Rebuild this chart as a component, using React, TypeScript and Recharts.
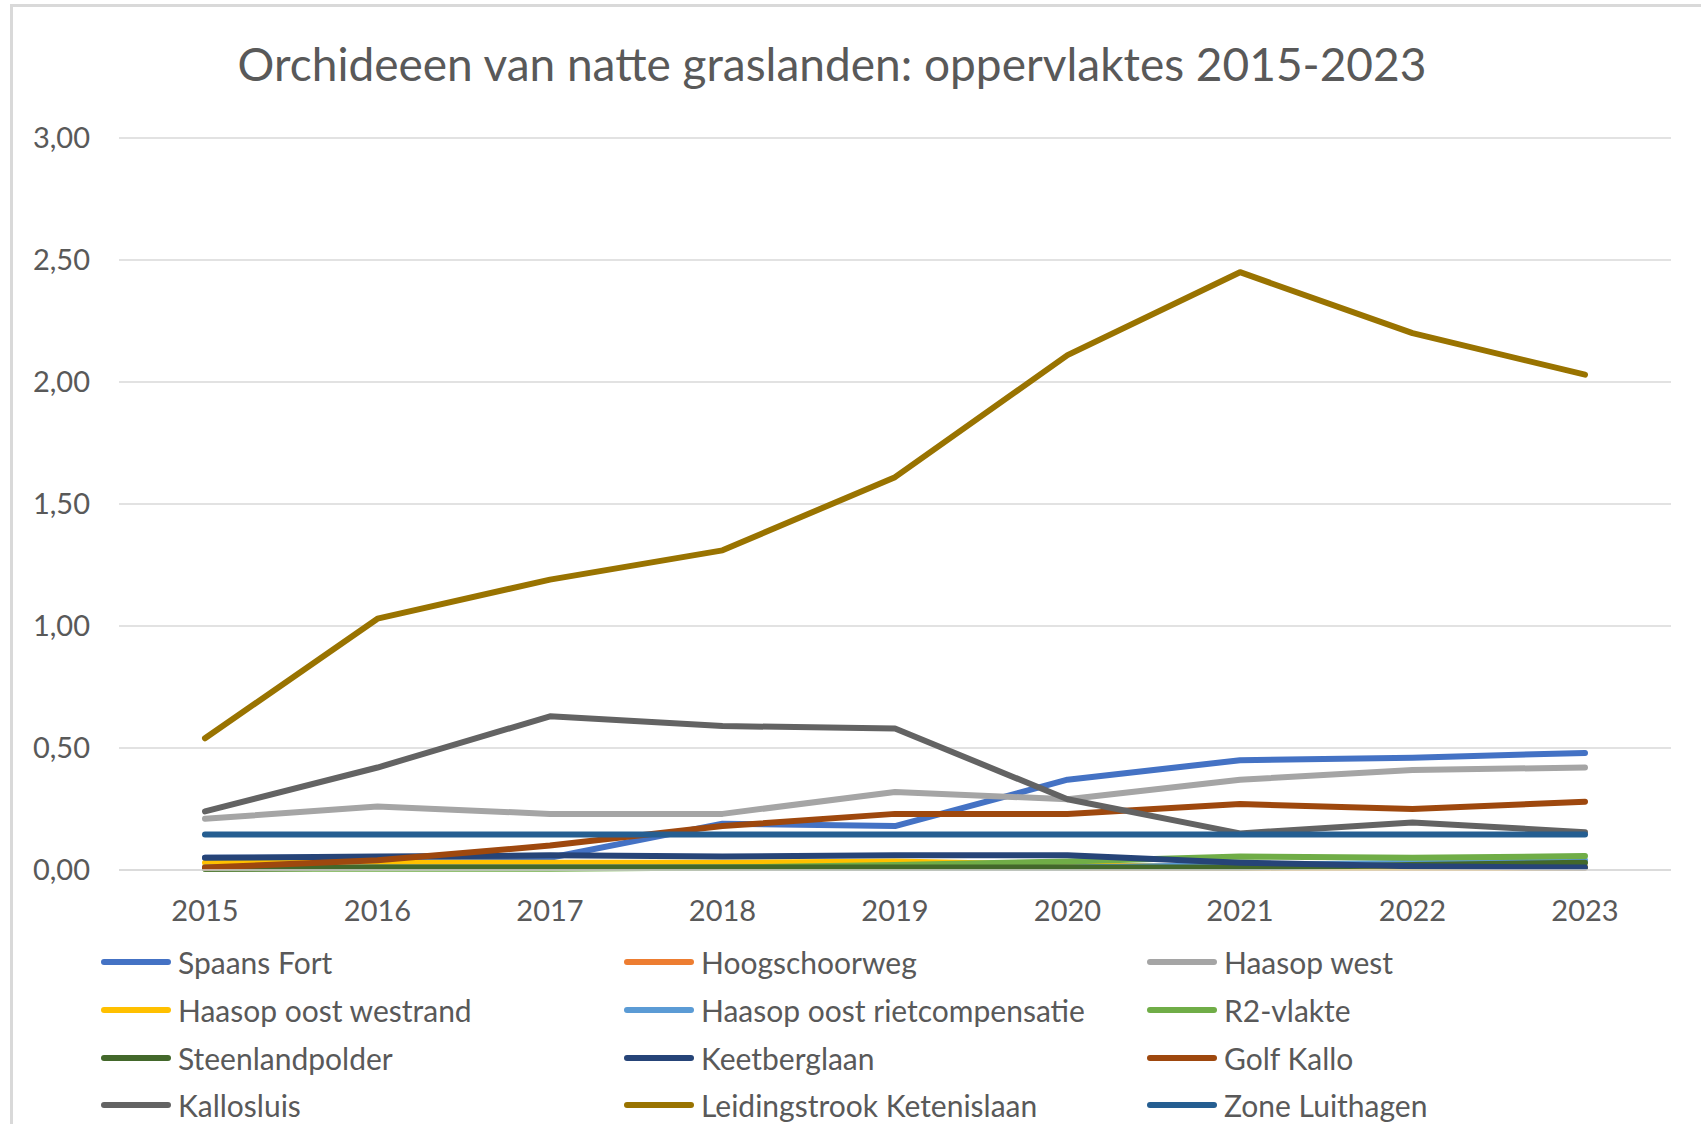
import React from "react";
import { CartesianGrid, Line, LineChart, XAxis, YAxis } from "recharts";

const years = ["2015", "2016", "2017", "2018", "2019", "2020", "2021", "2022", "2023"];
const yTicks = [0, 0.5, 1, 1.5, 2, 2.5, 3];

const spaansFort = [0.05, 0.05, 0.05, 0.19, 0.18, 0.37, 0.45, 0.46, 0.48];
const hoogschoorweg = [0.01, 0.01, 0.01, 0.01, 0.01, 0.01, 0.01, 0.01, 0.01];
const haasopWest = [0.21, 0.26, 0.23, 0.23, 0.32, 0.29, 0.37, 0.41, 0.42];
const haasopOostWestrand = [0.03, 0.03, 0.03, 0.03, 0.035, 0.02, 0.01, 0.01, 0.01];
const haasopOostRiet = [0.01, 0.01, 0.01, 0.01, 0.01, 0.01, 0.02, 0.03, 0.04];
const r2Vlakte = [0.005, 0.005, 0.005, 0.01, 0.02, 0.035, 0.055, 0.05, 0.057];
const steenlandpolder = [0.005, 0.01, 0.01, 0.01, 0.01, 0.01, 0.01, 0.02, 0.03];
const keetberglaan = [0.05, 0.055, 0.06, 0.055, 0.06, 0.06, 0.03, 0.015, 0.01];
const golfKallo = [0.01, 0.04, 0.1, 0.18, 0.23, 0.23, 0.27, 0.25, 0.28];
const kallosluis = [0.24, 0.42, 0.63, 0.59, 0.58, 0.29, 0.15, 0.195, 0.155];
const leidingstrook = [0.54, 1.03, 1.19, 1.31, 1.61, 2.11, 2.45, 2.2, 2.03];
const zoneLuithagen = [0.145, 0.145, 0.145, 0.145, 0.145, 0.145, 0.145, 0.145, 0.145];

const series = [
  { key: "Spaans Fort", values: spaansFort, color: "#4472C4" },
  { key: "Hoogschoorweg", values: hoogschoorweg, color: "#ED7D31" },
  { key: "Haasop west", values: haasopWest, color: "#A5A5A5" },
  { key: "Haasop oost westrand", values: haasopOostWestrand, color: "#FFC000" },
  { key: "Haasop oost rietcompensatie", values: haasopOostRiet, color: "#5B9BD5" },
  { key: "R2-vlakte", values: r2Vlakte, color: "#70AD47" },
  { key: "Steenlandpolder", values: steenlandpolder, color: "#43682B" },
  { key: "Keetberglaan", values: keetberglaan, color: "#264478" },
  { key: "Golf Kallo", values: golfKallo, color: "#9E480E" },
  { key: "Kallosluis", values: kallosluis, color: "#636363" },
  { key: "Leidingstrook Ketenislaan", values: leidingstrook, color: "#997300" },
  { key: "Zone Luithagen", values: zoneLuithagen, color: "#255E91" },
];

const data = years.map((year, i) => {
  const row: Record<string, string | number> = { year };
  series.forEach((s) => (row[s.key] = s.values[i]));
  return row;
});

const font = "Lato, 'Open Sans', sans-serif";
const textColor = "#595959";

const fmt = (v: number) => v.toFixed(2).replace(".", ",");

const LegendBlock = () => {
  const cols = [101, 624, 1147];
  const rows = [962, 1010, 1058, 1105];
  return (
    <>
      {series.map((s, i) => (
        <div
          key={s.key}
          style={{
            position: "absolute",
            left: cols[i % 3],
            top: rows[Math.floor(i / 3)] - 20,
            height: 40,
            display: "flex",
            alignItems: "center",
            fontFamily: font,
            fontSize: 30,
            color: textColor,
            whiteSpace: "nowrap",
          }}
        >
          <span
            style={{
              display: "inline-block",
              width: 70,
              height: 6,
              borderRadius: 3,
              background: s.color,
              marginRight: 7,
            }}
          />
          {s.key}
        </div>
      ))}
    </>
  );
};

export default function App() {
  return (
    <div
      style={{
        position: "fixed",
        left: 0,
        top: 0,
        width: 1701,
        height: 1124,
        overflow: "hidden",
        background: "#fff",
      }}
    >
      <div
        style={{
          position: "absolute",
          left: 10,
          top: 4,
          width: 1720,
          height: 1140,
          border: "3px solid #D9D9D9",
          boxSizing: "border-box",
        }}
      />
      <div
        style={{
          position: "absolute",
          left: 0,
          width: 1664,
          top: 36,
          textAlign: "center",
          fontFamily: font,
          fontSize: 46,
          color: textColor,
          whiteSpace: "nowrap",
        }}
      >
        Orchideeen van natte graslanden: oppervlaktes 2015-2023
      </div>
      <div style={{ position: "absolute", left: 0, top: 0 }}>
        <LineChart
          width={1701}
          height={1124}
          data={data}
          margin={{ top: 138, right: 30, bottom: 200, left: 0 }}
        >
          <CartesianGrid vertical={false} stroke="#D9D9D9" strokeWidth={1.5} />
          <XAxis
            dataKey="year"
            padding={{ left: 86, right: 86 }}
            axisLine={{ stroke: "#D9D9D9", strokeWidth: 1.5 }}
            tickLine={false}
            tickSize={0}
            tickMargin={30}
            height={54}
            interval={0}
            tick={{ fill: textColor, fontSize: 29, fontFamily: font }}
          />
          <YAxis
            domain={[0, 3]}
            ticks={yTicks}
            tickFormatter={fmt}
            axisLine={false}
            tickLine={false}
            tickSize={0}
            tickMargin={29}
            width={119}
            tick={{ fill: textColor, fontSize: 29, fontFamily: font }}
          />
          {series.map((s) => (
            <Line
              key={s.key}
              dataKey={s.key}
              type="linear"
              stroke={s.color}
              strokeWidth={6}
              strokeLinecap="round"
              strokeLinejoin="round"
              dot={false}
              activeDot={false}
              isAnimationActive={false}
            />
          ))}
        </LineChart>
      </div>
      <LegendBlock />
    </div>
  );
}
